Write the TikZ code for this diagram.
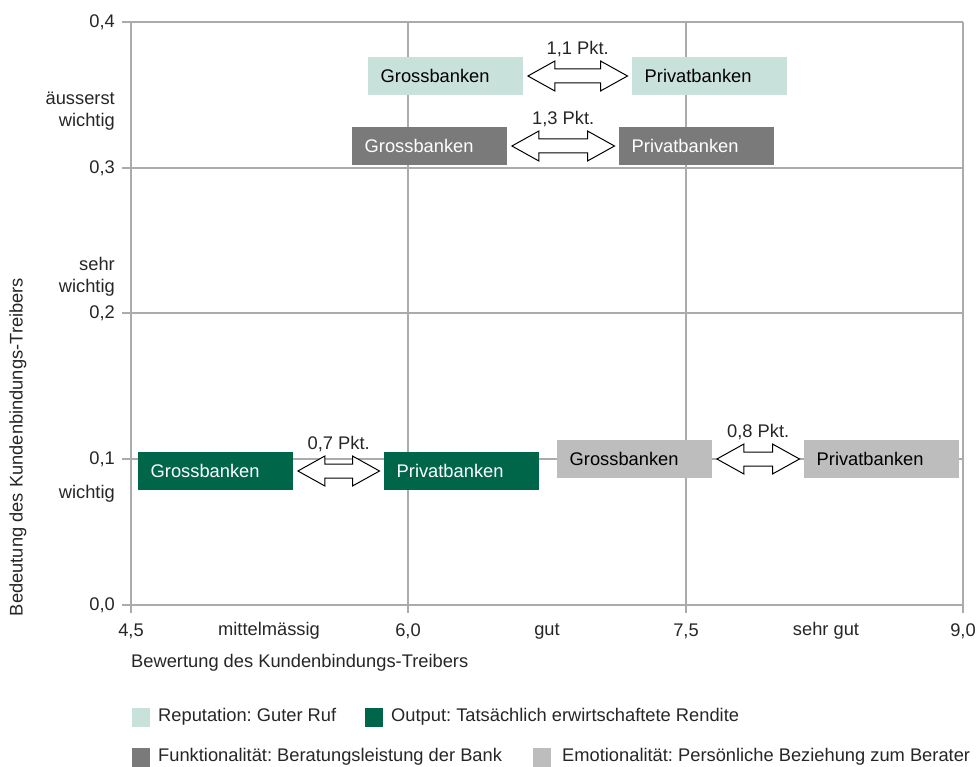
\documentclass[tikz,border=0pt]{standalone}
\usepackage{fontspec}
\setmainfont{Liberation Sans}
\usetikzlibrary{calc}
\definecolor{repc}{HTML}{C8E1DA}
\definecolor{func}{HTML}{7A7A7A}
\definecolor{outc}{HTML}{00664A}
\definecolor{emoc}{HTML}{BDBDBE}
\definecolor{gridc}{HTML}{ABABAB}
\definecolor{txtc}{HTML}{262626}
\frenchspacing
\tikzset{
  gridline/.style={draw=gridc, line width=1.6pt},
  ticklab/.style={text=txtc, inner sep=0pt},
  box/.style={anchor=west, minimum height=38pt, text width=130pt, inner xsep=12.5pt, inner ysep=0pt, align=left},
  dblarr/.style={draw=black, fill=white, line width=1pt, line join=miter},
  pkt/.style={text=txtc, inner sep=0pt},
  legsq/.style={minimum width=18pt, minimum height=19pt, inner sep=0pt, anchor=west},
  legtxt/.style={text=txtc, inner sep=0pt, anchor=west}
}
\newcommand\pktarrow[3]{%
  \draw[dblarr] let \p1=($(#1.east)+(4.5,0)$), \p2=($(#2.west)+(-4.5,0)$) in
    (\p1) -- (\x1+27pt,\y1+15pt) -- (\x1+27pt,\y1+7pt) -- (\x2-27pt,\y1+7pt) -- (\x2-27pt,\y1+15pt)
    -- (\p2) -- (\x2-27pt,\y1-15pt) -- (\x2-27pt,\y1-7pt) -- (\x1+27pt,\y1-7pt) -- (\x1+27pt,\y1-15pt) -- cycle;
  \node[pkt] (#1lab) at ($(#1.east)!0.5!(#2.west)+(0,-27)$) {#3};
}
\begin{document}
\begin{tikzpicture}[x=1pt,y=-1pt,font=\fontsize{18.3}{22}\selectfont]
\useasboundingbox (0,0) rectangle (978,767);
% grid
\foreach \yy in {22,168,313,459,605} \draw[gridline] (122,\yy) -- (963,\yy);
\foreach \xx in {131,408,686,963} \draw[gridline] (\xx,22) -- (\xx,613);
% y tick labels
\node[ticklab,anchor=east] (y4) at (115,22) {0,4};
\node[ticklab,anchor=east] (y3) at (115,168) {0,3};
\node[ticklab,anchor=east] (y2) at (115,313) {0,2};
\node[ticklab,anchor=east] (y1) at (115,459) {0,1};
\node[ticklab,anchor=east] (y0) at (115,605) {0,0};
\node[ticklab,anchor=east,align=right] (ya) at (115,111) {äusserst\\wichtig};
\node[ticklab,anchor=east,align=right] (yb) at (115,277) {sehr\\wichtig};
\node[ticklab,anchor=east,align=right] (yc) at (115,494) {wichtig};
% x tick labels
\node[ticklab] (x45) at (131,631) {4,5};
\node[ticklab] (xm) at (269,631) {mittelmässig};
\node[ticklab] (x60) at (408,631) {6,0};
\node[ticklab] (xg) at (547,631) {gut};
\node[ticklab] (x75) at (686,631) {7,5};
\node[ticklab] (xs) at (826,631) {sehr gut};
\node[ticklab] (x90) at (963,631) {9,0};
% axis titles
\node[ticklab,anchor=west] (xt) at (131,663) {Bewertung des Kundenbindungs-Treibers};
\node[ticklab,rotate=90] (yt) at (18,447) {Bedeutung des Kundenbindungs-Treibers};
% boxes
\node[box,fill=repc,text=black] (rg) at (368,76) {Grossbanken};
\node[box,fill=repc,text=black] (rp) at (632,76) {Privatbanken};
\node[box,fill=func,text=white] (fg) at (352,146) {Grossbanken};
\node[box,fill=func,text=white] (fp) at (619,146) {Privatbanken};
\node[box,fill=outc,text=white] (og) at (138,471) {Grossbanken};
\node[box,fill=outc,text=white] (op) at (384,471) {Privatbanken};
\node[box,fill=emoc,text=black] (eg) at (557,459) {Grossbanken};
\node[box,fill=emoc,text=black] (ep) at (804,459) {Privatbanken};
% arrows
\pktarrow{rg}{rp}{1,1 Pkt.}
\pktarrow{fg}{fp}{1,3 Pkt.}
\pktarrow{og}{op}{0,7 Pkt.}
\pktarrow{eg}{ep}{0,8 Pkt.}
% legend
\node[legsq,fill=repc] (l1) at (132,717) {};
\node[legtxt] (l1t) at (158,717) {Reputation: Guter Ruf};
\node[legsq,fill=outc] (l2) at (365,717) {};
\node[legtxt] (l2t) at (391,717) {Output: Tatsächlich erwirtschaftete Rendite};
\node[legsq,fill=func] (l3) at (132,757) {};
\node[legtxt] (l3t) at (158,757) {Funktionalität: Beratungsleistung der Bank};
\node[legsq,fill=emoc] (l4) at (533,757) {};
\node[legtxt] (l4t) at (562,757) {Emotionalität: Persönliche Beziehung zum Berater};
\end{tikzpicture}
\end{document}
